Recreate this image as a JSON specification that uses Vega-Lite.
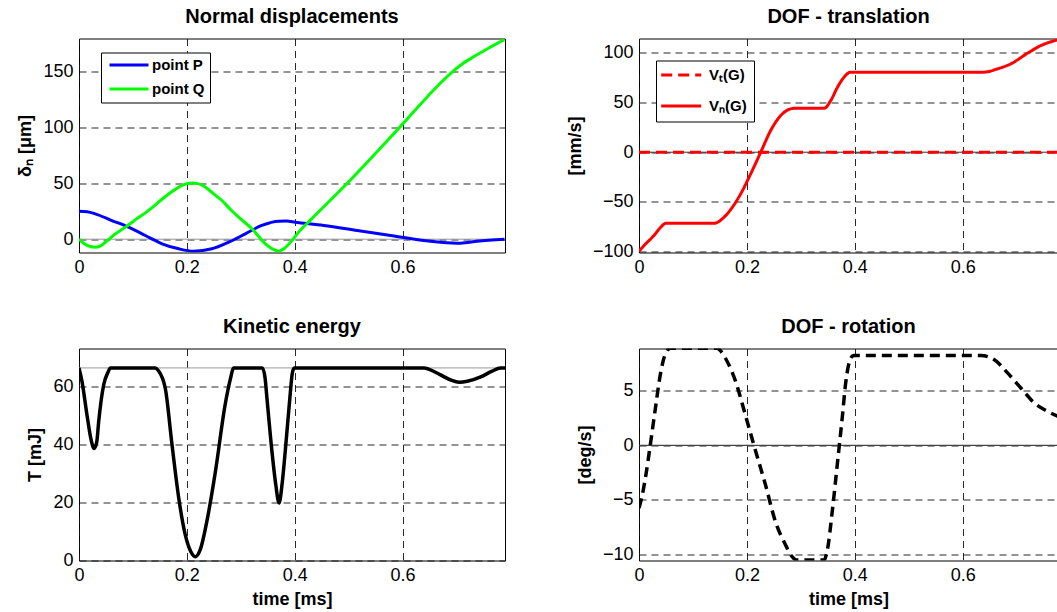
{
  "$schema": "https://vega.github.io/schema/vega-lite/v6.json",
  "padding": {"left": 16, "top": 5.5, "right": 0, "bottom": 2},
  "config": {
    "font": "Liberation Sans",
    "view": {"stroke": "black", "strokeWidth": 1},
    "axis": {
      "domain": false, "ticks": false, "tickSize": 0, "labelFlush": false,
      "labelFont": "Liberation Sans", "labelFontSize": 18, "labelColor": "black", "labelPadding": 6,
      "titleFont": "Liberation Sans", "titleFontSize": 18, "titleFontWeight": "bold", "titleColor": "black", "titlePadding": 8,
      "grid": true, "gridColor": "#111111", "gridDash": [7, 5], "gridWidth": 1, "gridOpacity": 0.9
    },
    "title": {"font": "Liberation Sans", "fontSize": 20, "fontWeight": "bold", "color": "black", "offset": 12, "anchor": "middle"},
    "legend": {
      "orient": "none", "strokeColor": "black", "fillColor": "white", "padding": 5,
      "labelFont": "Liberation Sans", "labelFontSize": 15, "labelFontWeight": "bold", "labelColor": "black",
      "symbolStrokeWidth": 3, "symbolSize": 100, "symbolFillColor": "transparent",
      "labelOffset": 31
    }
  },
  "datasets": {
    "disp": [
      {"t": 0, "v": 25, "s": "point P"},
      {"t": 0.015, "v": 24.5, "s": "point P"},
      {"t": 0.03, "v": 22.7, "s": "point P"},
      {"t": 0.061, "v": 16.7, "s": "point P"},
      {"t": 0.092, "v": 10.7, "s": "point P"},
      {"t": 0.123, "v": 3.3, "s": "point P"},
      {"t": 0.154, "v": -4.1, "s": "point P"},
      {"t": 0.185, "v": -8.6, "s": "point P"},
      {"t": 0.2126, "v": -10.7, "s": "point P"},
      {"t": 0.2466, "v": -8.6, "s": "point P"},
      {"t": 0.2775, "v": -2.7, "s": "point P"},
      {"t": 0.3085, "v": 4.8, "s": "point P"},
      {"t": 0.339, "v": 12.3, "s": "point P"},
      {"t": 0.37, "v": 16.1, "s": "point P"},
      {"t": 0.385, "v": 16.2, "s": "point P"},
      {"t": 0.401, "v": 15.2, "s": "point P"},
      {"t": 0.454, "v": 12.3, "s": "point P"},
      {"t": 0.516, "v": 7.8, "s": "point P"},
      {"t": 0.578, "v": 3.3, "s": "point P"},
      {"t": 0.6396, "v": -1.2, "s": "point P"},
      {"t": 0.6706, "v": -2.7, "s": "point P"},
      {"t": 0.7076, "v": -3.6, "s": "point P"},
      {"t": 0.7386, "v": -1.8, "s": "point P"},
      {"t": 0.789, "v": 0, "s": "point P"},
      {"t": 0, "v": 0, "s": "point Q"},
      {"t": 0.015, "v": -5.6, "s": "point Q"},
      {"t": 0.03, "v": -7.2, "s": "point Q"},
      {"t": 0.04, "v": -6, "s": "point Q"},
      {"t": 0.049, "v": -2.7, "s": "point Q"},
      {"t": 0.0675, "v": 4.8, "s": "point Q"},
      {"t": 0.087, "v": 11, "s": "point Q"},
      {"t": 0.105, "v": 17.5, "s": "point Q"},
      {"t": 0.123, "v": 23.5, "s": "point Q"},
      {"t": 0.14, "v": 30, "s": "point Q"},
      {"t": 0.151, "v": 34.6, "s": "point Q"},
      {"t": 0.165, "v": 40, "s": "point Q"},
      {"t": 0.18, "v": 45, "s": "point Q"},
      {"t": 0.192, "v": 48.3, "s": "point Q"},
      {"t": 0.202, "v": 49.9, "s": "point Q"},
      {"t": 0.211, "v": 50.3, "s": "point Q"},
      {"t": 0.22, "v": 49.7, "s": "point Q"},
      {"t": 0.23, "v": 47.9, "s": "point Q"},
      {"t": 0.24, "v": 44.5, "s": "point Q"},
      {"t": 0.255, "v": 38.5, "s": "point Q"},
      {"t": 0.265, "v": 34.6, "s": "point Q"},
      {"t": 0.28, "v": 27, "s": "point Q"},
      {"t": 0.296, "v": 19.7, "s": "point Q"},
      {"t": 0.3208, "v": 9.3, "s": "point Q"},
      {"t": 0.3456, "v": -4.1, "s": "point Q"},
      {"t": 0.358, "v": -8.5, "s": "point Q"},
      {"t": 0.37, "v": -10.7, "s": "point Q"},
      {"t": 0.38, "v": -8.5, "s": "point Q"},
      {"t": 0.395, "v": -1.2, "s": "point Q"},
      {"t": 0.4073, "v": 6.3, "s": "point Q"},
      {"t": 0.43, "v": 17.5, "s": "point Q"},
      {"t": 0.4975, "v": 50, "s": "point Q"},
      {"t": 0.5946, "v": 100, "s": "point Q"},
      {"t": 0.67, "v": 139.5, "s": "point Q"},
      {"t": 0.692, "v": 149.5, "s": "point Q"},
      {"t": 0.71, "v": 156.5, "s": "point Q"},
      {"t": 0.735, "v": 164, "s": "point Q"},
      {"t": 0.76, "v": 171, "s": "point Q"},
      {"t": 0.789, "v": 178.5, "s": "point Q"}
    ],
    "trans": [
      {"t": 0, "v": 0, "s": "Vₜ(G)"},
      {"t": 0.7765, "v": 0, "s": "Vₜ(G)"},
      {"t": 0, "v": -99.5, "s": "Vₙ(G)"},
      {"t": 0.0093, "v": -93.8, "s": "Vₙ(G)"},
      {"t": 0.0278, "v": -83.7, "s": "Vₙ(G)"},
      {"t": 0.0402, "v": -75.4, "s": "Vₙ(G)"},
      {"t": 0.0495, "v": -71.5, "s": "Vₙ(G)"},
      {"t": 0.139, "v": -71.5, "s": "Vₙ(G)"},
      {"t": 0.1576, "v": -65.3, "s": "Vₙ(G)"},
      {"t": 0.173, "v": -55.3, "s": "Vₙ(G)"},
      {"t": 0.1885, "v": -41.8, "s": "Vₙ(G)"},
      {"t": 0.207, "v": -21.7, "s": "Vₙ(G)"},
      {"t": 0.2256, "v": 0, "s": "Vₙ(G)"},
      {"t": 0.244, "v": 21.8, "s": "Vₙ(G)"},
      {"t": 0.2627, "v": 36.9, "s": "Vₙ(G)"},
      {"t": 0.2812, "v": 43.6, "s": "Vₙ(G)"},
      {"t": 0.29, "v": 44.2, "s": "Vₙ(G)"},
      {"t": 0.343, "v": 44.2, "s": "Vₙ(G)"},
      {"t": 0.3554, "v": 52, "s": "Vₙ(G)"},
      {"t": 0.3678, "v": 65.3, "s": "Vₙ(G)"},
      {"t": 0.38, "v": 75.4, "s": "Vₙ(G)"},
      {"t": 0.3925, "v": 80.5, "s": "Vₙ(G)"},
      {"t": 0.6396, "v": 80.5, "s": "Vₙ(G)"},
      {"t": 0.6644, "v": 83.8, "s": "Vₙ(G)"},
      {"t": 0.689, "v": 88.8, "s": "Vₙ(G)"},
      {"t": 0.72, "v": 99.5, "s": "Vₙ(G)"},
      {"t": 0.7447, "v": 107.2, "s": "Vₙ(G)"},
      {"t": 0.7757, "v": 112.9, "s": "Vₙ(G)"}
    ],
    "energy": [
      {"t": 0, "T": 66.4},
      {"t": 0.0056, "T": 61.7},
      {"t": 0.0148, "T": 50.2},
      {"t": 0.022, "T": 42},
      {"t": 0.028, "T": 38.6},
      {"t": 0.033, "T": 41},
      {"t": 0.0365, "T": 47.9},
      {"t": 0.0458, "T": 60.6},
      {"t": 0.054, "T": 65},
      {"t": 0.058, "T": 66.4},
      {"t": 0.1415, "T": 66.4},
      {"t": 0.147, "T": 65.5},
      {"t": 0.16, "T": 59.4},
      {"t": 0.1725, "T": 39.9},
      {"t": 0.185, "T": 21.5},
      {"t": 0.197, "T": 8.9},
      {"t": 0.207, "T": 3.2},
      {"t": 0.216, "T": 1.3},
      {"t": 0.225, "T": 3.8},
      {"t": 0.237, "T": 13.4},
      {"t": 0.253, "T": 30.7},
      {"t": 0.271, "T": 53.7},
      {"t": 0.28, "T": 62},
      {"t": 0.287, "T": 66.4},
      {"t": 0.34, "T": 66.4},
      {"t": 0.345, "T": 63},
      {"t": 0.349, "T": 55},
      {"t": 0.3585, "T": 36.4},
      {"t": 0.365, "T": 26},
      {"t": 0.371, "T": 19.8},
      {"t": 0.377, "T": 27},
      {"t": 0.383, "T": 38.8},
      {"t": 0.391, "T": 56},
      {"t": 0.3955, "T": 64.5},
      {"t": 0.399, "T": 66.4},
      {"t": 0.64, "T": 66.4},
      {"t": 0.66, "T": 65},
      {"t": 0.6705, "T": 64},
      {"t": 0.69, "T": 62.2},
      {"t": 0.705, "T": 61.5},
      {"t": 0.72, "T": 61.8},
      {"t": 0.745, "T": 63.3},
      {"t": 0.765, "T": 65.2},
      {"t": 0.782, "T": 66.4},
      {"t": 0.79, "T": 66.4}
    ],
    "rot": [
      {"t": 0, "w": -5.75},
      {"t": 0.005, "w": -4.8},
      {"t": 0.0118, "w": -3},
      {"t": 0.021, "w": 0.06},
      {"t": 0.0304, "w": 3.4},
      {"t": 0.0396, "w": 6.5},
      {"t": 0.049, "w": 8.4},
      {"t": 0.058, "w": 8.9},
      {"t": 0.1446, "w": 8.9},
      {"t": 0.152, "w": 8.6},
      {"t": 0.16, "w": 8.0},
      {"t": 0.1787, "w": 5.9},
      {"t": 0.197, "w": 2.8},
      {"t": 0.2127, "w": 0.06},
      {"t": 0.2343, "w": -3.6},
      {"t": 0.2529, "w": -7.0},
      {"t": 0.2714, "w": -9.1},
      {"t": 0.2837, "w": -10.2},
      {"t": 0.292, "w": -10.5},
      {"t": 0.343, "w": -10.5},
      {"t": 0.349, "w": -9.6},
      {"t": 0.3585, "w": -5.9},
      {"t": 0.3678, "w": -1.6},
      {"t": 0.377, "w": 2.7},
      {"t": 0.383, "w": 5.7},
      {"t": 0.3925, "w": 8.0},
      {"t": 0.398, "w": 8.23},
      {"t": 0.6335, "w": 8.23},
      {"t": 0.658, "w": 7.86},
      {"t": 0.683, "w": 6.64},
      {"t": 0.7077, "w": 5.25},
      {"t": 0.7323, "w": 3.89},
      {"t": 0.757, "w": 3.12},
      {"t": 0.7757, "w": 2.66}
    ]
  },
  "columns": 2,
  "spacing": {"row": 96, "column": 134},
  "bounds": "flush",
  "resolve": {
    "scale": {"color": "independent", "strokeDash": "independent", "x": "independent", "y": "independent"},
    "legend": {"color": "independent", "strokeDash": "independent"}
  },
  "concat": [
    {
      "width": 426, "height": 214,
      "title": "Normal displacements",
      "layer": [
        {
          "data": {"values": [{"ref": 0}]},
          "mark": {"type": "rule", "color": "#999999", "strokeWidth": 1},
          "encoding": {"y": {"field": "ref", "type": "quantitative"}}
        },
        {
          "data": {"name": "disp"},
          "mark": {"type": "line", "strokeWidth": 3, "interpolate": "monotone", "clip": true, "strokeJoin": "round"},
          "encoding": {
            "x": {"field": "t", "type": "quantitative", "scale": {"domain": [0, 0.79], "nice": false, "zero": false},
                  "axis": {"title": null, "values": [0, 0.2, 0.4, 0.6], "format": "~g"}},
            "y": {"field": "v", "type": "quantitative", "scale": {"domain": [-11.9, 179.5], "nice": false, "zero": false},
                  "axis": {"title": "δₙ [μm]", "values": [0, 50, 100, 150]}},
            "color": {"field": "s", "type": "nominal",
                      "scale": {"domain": ["point P", "point Q"], "range": ["#0000ff", "#00ff00"]},
                      "legend": {"title": null, "legendX": 22, "legendY": 14, "padding": 5, "rowPadding": 8,
                                 "symbolType": "M-0.8,0H7.0", "labelOffset": 31}}
          }
        }
      ]
    },
    {
      "width": 419, "height": 214,
      "title": "DOF - translation",
      "layer": [
        {
          "data": {"values": [{"ref": 0}]},
          "mark": {"type": "rule", "color": "#333333", "strokeWidth": 1},
          "encoding": {"y": {"field": "ref", "type": "quantitative"}}
        },
        {
          "data": {"name": "trans"},
          "mark": {"type": "line", "strokeWidth": 3, "color": "#ff0000", "interpolate": "monotone", "clip": true, "strokeJoin": "round"},
          "encoding": {
            "x": {"field": "t", "type": "quantitative", "scale": {"domain": [0, 0.7765], "nice": false, "zero": false},
                  "axis": {"title": null, "values": [0, 0.2, 0.4, 0.6], "format": "~g"}},
            "y": {"field": "v", "type": "quantitative", "scale": {"domain": [-100.8, 114.3], "nice": false, "zero": false},
                  "axis": {"title": "[mm/s]", "values": [-100, -50, 0, 50, 100]}},
            "strokeDash": {"field": "s", "type": "nominal",
                           "scale": {"domain": ["Vₜ(G)", "Vₙ(G)"], "range": [[11, 6], [1, 0]]},
                           "legend": {"title": null, "legendX": 17, "legendY": 22, "padding": 7, "rowPadding": 15,
                                      "symbolStrokeColor": "#ff0000", "symbolType": "M-1.86,0H6.14", "labelOffset": 31}}
          }
        }
      ]
    },
    {
      "width": 426, "height": 212,
      "title": "Kinetic energy",
      "layer": [
        {
          "data": {"values": [{"ref": 66.4}]},
          "mark": {"type": "rule", "color": "#999999", "strokeWidth": 1},
          "encoding": {"y": {"field": "ref", "type": "quantitative"}}
        },
        {
          "data": {"name": "energy"},
          "mark": {"type": "line", "strokeWidth": 3.5, "color": "black", "interpolate": "monotone", "clip": true, "strokeJoin": "round"},
          "encoding": {
            "x": {"field": "t", "type": "quantitative", "scale": {"domain": [0, 0.79], "nice": false, "zero": false},
                  "axis": {"title": "time [ms]", "values": [0, 0.2, 0.4, 0.6], "format": "~g", "titlePadding": 6}},
            "y": {"field": "T", "type": "quantitative", "scale": {"domain": [0, 73.1], "nice": false, "zero": false},
                  "axis": {"title": "T [mJ]", "values": [0, 20, 40, 60]}}
          }
        }
      ]
    },
    {
      "width": 419, "height": 212,
      "title": "DOF - rotation",
      "layer": [
        {
          "data": {"values": [{"ref": 0}]},
          "mark": {"type": "rule", "color": "#444444", "strokeWidth": 1.2},
          "encoding": {"y": {"field": "ref", "type": "quantitative"}}
        },
        {
          "data": {"name": "rot"},
          "mark": {"type": "line", "strokeWidth": 3.5, "color": "black", "strokeDash": [10, 6], "interpolate": "monotone", "clip": true},
          "encoding": {
            "x": {"field": "t", "type": "quantitative", "scale": {"domain": [0, 0.7765], "nice": false, "zero": false},
                  "axis": {"title": "time [ms]", "values": [0, 0.2, 0.4, 0.6], "format": "~g", "titlePadding": 6}},
            "y": {"field": "w", "type": "quantitative", "scale": {"domain": [-10.55, 8.87], "nice": false, "zero": false},
                  "axis": {"title": "[deg/s]", "values": [-10, -5, 0, 5]}}
          }
        }
      ]
    }
  ]
}
